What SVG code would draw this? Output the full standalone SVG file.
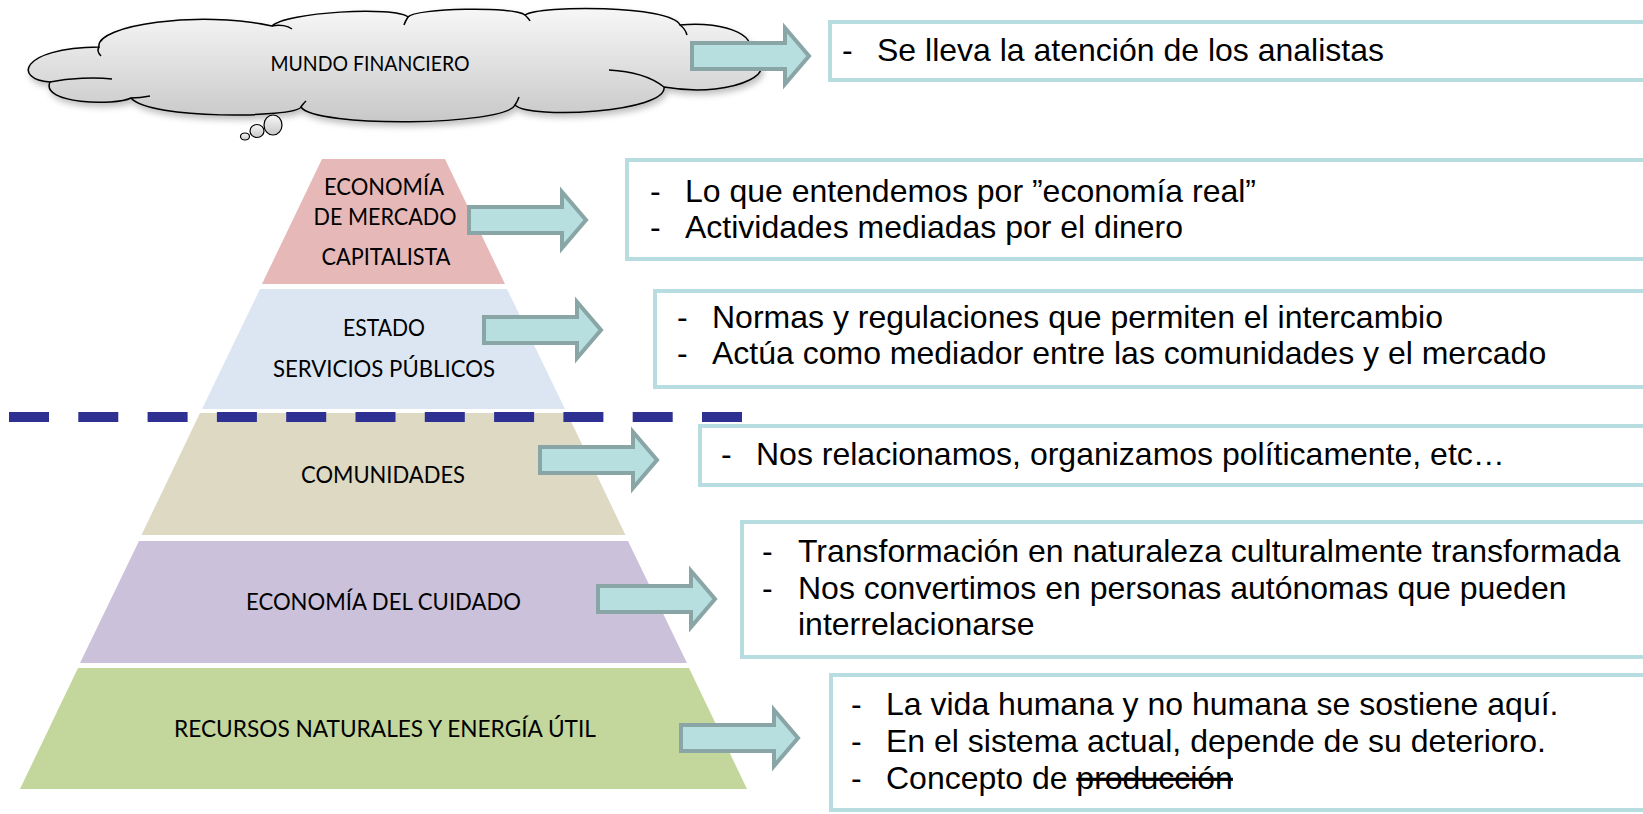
<svg xmlns="http://www.w3.org/2000/svg" xmlns:xlink="http://www.w3.org/1999/xlink" width="1643" height="814" viewBox="0 0 1643 814">
<style>
.lbl{font-family:Lato,"Liberation Sans",sans-serif;font-size:23px;fill:#000;text-anchor:middle}
.cl{font-family:Lato,"Liberation Sans",sans-serif;font-size:20.5px;fill:#000;text-anchor:middle}
.bt{font-family:"Liberation Sans",Arial,sans-serif;font-size:32px;fill:#000}
.box{fill:#fff;stroke:#b7dde1;stroke-width:4}
.arr{fill:#b7dfe0;stroke:#89a5a6;stroke-width:4;stroke-linejoin:miter}
.cloudline{fill:none;stroke:#000;stroke-width:1.5}
</style>
<defs>
<linearGradient id="cg" x1="0" y1="0" x2="0" y2="1">
<stop offset="0" stop-color="#f7f7f7"/>
<stop offset="1" stop-color="#c8c8c8"/>
</linearGradient>
<filter id="sh" x="-5%" y="-20%" width="110%" height="150%">
<feDropShadow dx="2" dy="4" stdDeviation="3" flood-color="#000" flood-opacity="0.25"/>
</filter>
<path id="arrowShape" d="M2,-13 H95 V-28 L119,0 L95,28 V13 H2 Z"/>
</defs>

<g id="layer-mercado">
<polygon points="322,159 445,159 505,284 262,284" fill="#e6b9b8"/>
<text class="lbl" x="384" y="195" textLength="120" lengthAdjust="spacingAndGlyphs">ECONOMÍA</text>
<text class="lbl" x="385" y="225" textLength="143" lengthAdjust="spacingAndGlyphs">DE MERCADO</text>
<text class="lbl" x="386" y="265" textLength="129" lengthAdjust="spacingAndGlyphs">CAPITALISTA</text>
</g>
<g id="layer-estado">
<polygon points="260,289 507,289 565,409 202,409" fill="#dce6f2"/>
<text class="lbl" x="384" y="336" textLength="82" lengthAdjust="spacingAndGlyphs">ESTADO</text>
<text class="lbl" x="384" y="377" textLength="222" lengthAdjust="spacingAndGlyphs">SERVICIOS PÚBLICOS</text>
</g>
<g id="layer-comunidades">
<polygon points="200,413 567,413 625.5,535 141.5,535" fill="#ddd9c3"/>
<text class="lbl" x="383" y="483" textLength="164" lengthAdjust="spacingAndGlyphs">COMUNIDADES</text>
</g>
<g id="layer-cuidado">
<polygon points="139,541 628,541 687,663 80,663" fill="#ccc1da"/>
<text class="lbl" x="383.5" y="610" textLength="275" lengthAdjust="spacingAndGlyphs">ECONOMÍA DEL CUIDADO</text>
</g>
<g id="layer-recursos">
<polygon points="78,668 689,668 747,789 20,789" fill="#c3d69b"/>
<text class="lbl" x="385" y="737" textLength="422" lengthAdjust="spacingAndGlyphs">RECURSOS NATURALES Y ENERGÍA ÚTIL</text>
</g>

<g id="divider">
<line x1="9" y1="417" x2="742" y2="417" stroke="#2e3192" stroke-width="10" stroke-dasharray="40 29.3"/>
</g>

<g id="cloud-financiero">
<path filter="url(#sh)" fill="url(#cg)" stroke="#000" stroke-width="1.5" d="M50,82 C14,80 18,48 99,47 C95,25 200,10 272,26 C285,12 395,6 408,17 C415,8 515,6 525,15 C540,5 670,5 680,25 C725,20 768,38 742,58 C790,65 740,100 664,87 C668,112 530,120 515,105 C505,126 315,128 301,107 C295,118 150,120 131,98 C115,106 40,104 50,82 Z"/>
<path class="cloudline" d="M50,82 C70,78 95,77 112,79"/>
<path class="cloudline" d="M99,47 C97,50 98,53 101,56"/>
<path class="cloudline" d="M272,26 C280,24 288,26 292,29"/>
<path class="cloudline" d="M408,17 C406,20 405,22 404,25"/>
<path class="cloudline" d="M525,15 C527,17 529,19 530,21"/>
<path class="cloudline" d="M680,25 C684,28 686,31 687,35"/>
<path class="cloudline" d="M664,87 C650,76 630,71 609,70"/>
<path class="cloudline" d="M515,105 C517,102 518,100 519,97"/>
<path class="cloudline" d="M301,107 C302,105 304,103 306,101"/>
<path class="cloudline" d="M131,98 C138,98 145,97 150,96"/>
<ellipse cx="273" cy="125" rx="9" ry="10" fill="url(#cg)" stroke="#000" stroke-width="1.2"/>
<ellipse cx="257" cy="131" rx="7" ry="6.5" fill="url(#cg)" stroke="#000" stroke-width="1.2"/>
<ellipse cx="245" cy="136.5" rx="4.5" ry="3.5" fill="url(#cg)" stroke="#000" stroke-width="1.2"/>
<text class="cl" x="370" y="71" textLength="199" lengthAdjust="spacingAndGlyphs">MUNDO FINANCIERO</text>
</g>

<g id="connectors">
<use xlink:href="#arrowShape" class="arr" transform="translate(690,56)"/>
<use xlink:href="#arrowShape" class="arr" transform="translate(467,220)"/>
<use xlink:href="#arrowShape" class="arr" transform="translate(482,330)"/>
<use xlink:href="#arrowShape" class="arr" transform="translate(538,460)"/>
<use xlink:href="#arrowShape" class="arr" transform="translate(596,599)"/>
<use xlink:href="#arrowShape" class="arr" transform="translate(679,738)"/>
</g>

<g id="box-financiero">
<rect class="box" x="830" y="22" width="900" height="58"/>
<text class="bt" x="842" y="61">-</text>
<text class="bt" x="877" y="61">Se lleva la atención de los analistas</text>
</g>
<g id="box-mercado">
<rect class="box" x="627" y="160" width="1100" height="99"/>
<text class="bt" x="650" y="202">-</text>
<text class="bt" x="685" y="202">Lo que entendemos por ”economía real”</text>
<text class="bt" x="650" y="238">-</text>
<text class="bt" x="685" y="238">Actividades mediadas por el dinero</text>
</g>
<g id="box-estado">
<rect class="box" x="655" y="291" width="1100" height="96"/>
<text class="bt" x="677" y="328">-</text>
<text class="bt" x="712" y="328">Normas y regulaciones que permiten el intercambio</text>
<text class="bt" x="677" y="364">-</text>
<text class="bt" x="712" y="364">Actúa como mediador entre las comunidades y el mercado</text>
</g>
<g id="box-comunidades">
<rect class="box" x="700" y="426" width="1000" height="59"/>
<text class="bt" x="721" y="465">-</text>
<text class="bt" x="756" y="465">Nos relacionamos, organizamos políticamente, etc…</text>
</g>
<g id="box-cuidado">
<rect class="box" x="742" y="522" width="1000" height="135"/>
<text class="bt" x="762" y="562">-</text>
<text class="bt" x="798" y="562">Transformación en naturaleza culturalmente transformada</text>
<text class="bt" x="762" y="598.5">-</text>
<text class="bt" x="798" y="598.5">Nos convertimos en personas autónomas que pueden</text>
<text class="bt" x="798" y="635">interrelacionarse</text>
</g>
<g id="box-recursos">
<rect class="box" x="831" y="675" width="1000" height="135"/>
<text class="bt" x="851" y="715">-</text>
<text class="bt" x="886" y="715">La vida humana y no humana se sostiene aquí.</text>
<text class="bt" x="851" y="752">-</text>
<text class="bt" x="886" y="752">En el sistema actual, depende de su deterioro.</text>
<text class="bt" x="851" y="789">-</text>
<text class="bt" x="886" y="789">Concepto de <tspan text-decoration="line-through">producción</tspan></text>
</g>
</svg>
